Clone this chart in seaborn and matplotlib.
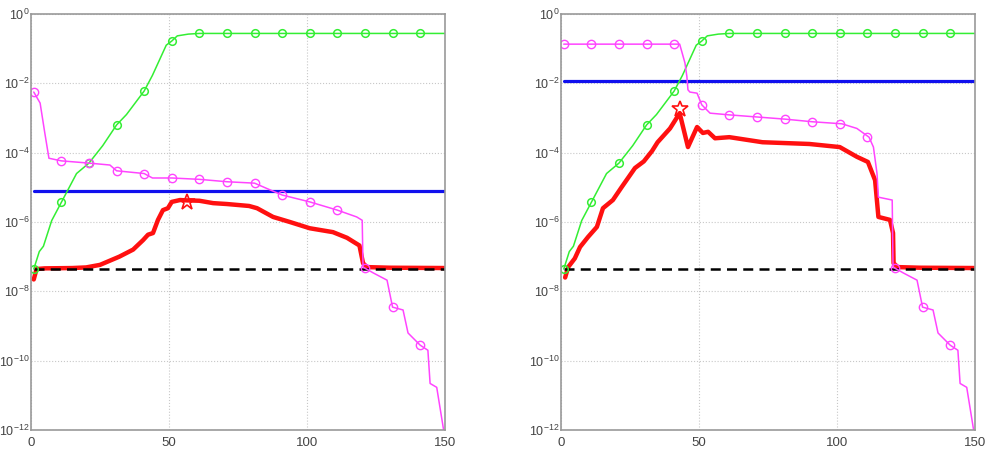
import numpy as np
import seaborn as sns
import matplotlib.pyplot as plt

# green curve (same in both panels)
green_x = [1, 3, 4.5, 7.5, 11, 16.5, 21, 26, 31, 34.6, 41, 44, 49, 51, 53, 57, 61, 150]
green_y = [4.4e-8, 1.4e-7, 2.0e-7, 1.1e-6, 3.7e-6, 2.5e-5, 5.0e-5, 1.6e-4, 6.3e-4, 1.26e-3,
           6.0e-3, 1.7e-2, 0.126, 0.166, 0.234, 0.263, 0.275, 0.275]
green_mk_x = [1, 11, 21, 31, 41, 51, 61, 71, 81, 91, 101, 111, 121, 131, 141]
green_mk_y = [4.4e-8, 3.7e-6, 5.0e-5, 6.3e-4, 6.0e-3, 0.166, 0.275, 0.275, 0.275, 0.275,
              0.275, 0.275, 0.275, 0.275, 0.275]

# magenta tail after the drop (same in both panels)
tail_x = [120.3, 124, 129, 131, 134.8, 136.6, 141, 143.8, 144.6, 147, 149.5]
tail_y = [5.0e-8, 3.4e-8, 2.1e-8, 3.5e-9, 2.9e-9, 6.3e-10, 2.8e-10, 2.0e-10, 2.2e-11, 1.7e-11, 1e-12]

# left panel
mag_l_x = [1, 3.3, 5, 6.5, 11, 21, 28.6, 31, 41, 44, 51, 61, 71, 81, 85.4, 91, 101, 111, 118, 120] + tail_x
mag_l_y = [5.6e-3, 2.7e-3, 3.7e-4, 6.9e-5, 5.8e-5, 5.0e-5, 4.4e-5, 3.0e-5, 2.5e-5, 1.86e-5,
           1.86e-5, 1.7e-5, 1.45e-5, 1.32e-5, 9.3e-6, 6.0e-6, 3.8e-6, 2.2e-6, 1.4e-6, 1.12e-6] + tail_y
mag_l_mk = [5.6e-3, 5.8e-5, 5.0e-5, 3.0e-5, 2.5e-5, 1.86e-5, 1.7e-5, 1.45e-5, 1.32e-5, 6.0e-6,
            3.8e-6, 2.2e-6, 4.7e-8, 3.5e-9, 2.8e-10]
red_l_x = [1, 2, 5, 15, 20, 25, 32, 37, 40.6, 42.4, 44.2, 46, 47.8, 49.6, 51, 54, 56.5, 61, 66,
           71, 79, 81.9, 87.7, 93.8, 101, 109.4, 114.5, 119, 120.3, 121.7, 130, 150]
red_l_y = [2.2e-8, 4.4e-8, 4.6e-8, 4.7e-8, 4.9e-8, 5.8e-8, 1.0e-7, 1.6e-7, 3.0e-7, 4.3e-7,
           4.8e-7, 1.15e-6, 2.2e-6, 2.5e-6, 3.8e-6, 4.3e-6, 4.2e-6, 4.1e-6, 3.5e-6, 3.3e-6,
           2.9e-6, 2.5e-6, 1.4e-6, 1.0e-6, 6.6e-7, 5.1e-7, 3.5e-7, 2.1e-7, 6.5e-8, 5.0e-8,
           4.8e-8, 4.7e-8]
star_l = (56.5, 3.9e-6)
blue_l = 7.8e-6

# right panel
mag_r_x = [1, 43, 44.9, 45.6, 46, 46.7, 49.3, 51, 54, 61, 71, 81, 91, 101.8, 107.2, 111.6,
           113.2, 114.5, 115, 120] + tail_x
mag_r_y = [0.135, 0.135, 0.039, 0.0158, 6.5e-3, 5.6e-3, 5.2e-3, 2.4e-3, 1.38e-3, 1.23e-3,
           1.07e-3, 9.3e-4, 7.8e-4, 6.8e-4, 5.0e-4, 2.8e-4, 1.45e-4, 2.5e-5, 5.2e-6,
           4.3e-6] + tail_y
mag_r_mk = [0.135, 0.135, 0.135, 0.135, 0.135, 2.4e-3, 1.23e-3, 1.07e-3, 9.3e-4, 7.8e-4,
            6.8e-4, 2.8e-4, 4.7e-8, 3.5e-9, 2.8e-10]
red_r_x = [1.5, 2.6, 5, 6.9, 9.8, 13, 15.2, 18.8, 22, 26.8, 30, 33, 35, 39.5, 43, 46, 49.3,
           51.4, 53.3, 55.8, 61, 73, 90, 101, 107.2, 111.2, 113.8, 115, 119.2, 120.3, 120.5,
           122, 130, 150]
red_r_y = [2.5e-8, 5.0e-8, 8.9e-8, 1.9e-7, 3.7e-7, 7.2e-7, 2.5e-6, 4.3e-6, 1.02e-5, 3.6e-5,
           5.6e-5, 1.12e-4, 2.0e-4, 5.0e-4, 1.38e-3, 1.45e-4, 5.5e-4, 3.7e-4, 4.0e-4, 2.6e-4,
           2.8e-4, 2.0e-4, 1.78e-4, 1.45e-4, 7.6e-5, 5.4e-5, 1.6e-5, 1.4e-6, 1.15e-6,
           4.8e-7, 6.5e-8, 5.0e-8, 4.8e-8, 4.7e-8]
star_r = (43, 1.8e-3)
blue_r = 1.17e-2

black_level = 4.4e-8
x_span = [1, 150]

GREEN = '#33ee33'
MAGENTA = '#ff44ff'
RED = '#ff1010'
BLUE = '#1010ee'

sns.set_style("whitegrid", {'grid.linestyle': ':', 'grid.color': '#c8c8c8',
                            'axes.edgecolor': '#999999'})
plt.rcParams['font.family'] = ['Liberation Sans', 'DejaVu Sans']
plt.rcParams['mathtext.default'] = 'regular'

fig = plt.figure(figsize=(9.85, 4.61), dpi=100)
ax_l = fig.add_axes([31 / 985, 31 / 461, 414 / 985, 416 / 461])
ax_r = fig.add_axes([561 / 985, 31 / 461, 414 / 985, 416 / 461])

panels = [
    (ax_l, mag_l_x, mag_l_y, mag_l_mk, red_l_x, red_l_y, star_l, blue_l),
    (ax_r, mag_r_x, mag_r_y, mag_r_mk, red_r_x, red_r_y, star_r, blue_r),
]

for ax, mx, my, mmk, rx, ry, star, blue in panels:
    sns.lineplot(x=x_span, y=[blue, blue], ax=ax, color=BLUE, lw=2.3, estimator=None)
    sns.lineplot(x=rx, y=ry, ax=ax, color=RED, lw=3.2, estimator=None, sort=False)
    sns.lineplot(x=x_span, y=[black_level, black_level], ax=ax, color='black', lw=1.8,
                 ls=(0, (4, 2.5)), estimator=None)
    sns.lineplot(x=green_x, y=green_y, ax=ax, color=GREEN, lw=1.1, estimator=None, sort=False)
    ax.plot(green_mk_x, green_mk_y, ls='', marker='o', ms=5.5, mfc='none', mec=GREEN, mew=1.1)
    sns.lineplot(x=mx, y=my, ax=ax, color=MAGENTA, lw=1.1, estimator=None, sort=False)
    ax.plot(green_mk_x, mmk, ls='', marker='o', ms=6, mfc='none', mec=MAGENTA, mew=1.0)
    ax.plot([star[0]], [star[1]], ls='', marker='*', ms=12, mfc='none', mec=RED, mew=1.2)

    ax.set_yscale('log')
    ax.set_xlim(0, 150)
    ax.set_ylim(1e-12, 1e0)
    ax.set_xticks([0, 50, 100, 150])
    ax.set_yticks([1e-12, 1e-10, 1e-8, 1e-6, 1e-4, 1e-2, 1e0])
    ax.minorticks_off()
    ax.tick_params(axis='x', labelsize=9.5, colors='#444444', length=0, pad=5)
    ax.tick_params(axis='y', labelsize=9, colors='#444444', length=0, pad=1)
    ax.set_xlabel('')
    ax.set_ylabel('')
    for s in ax.spines.values():
        s.set_linewidth(1.2)

plt.savefig('out.png', dpi=100)
